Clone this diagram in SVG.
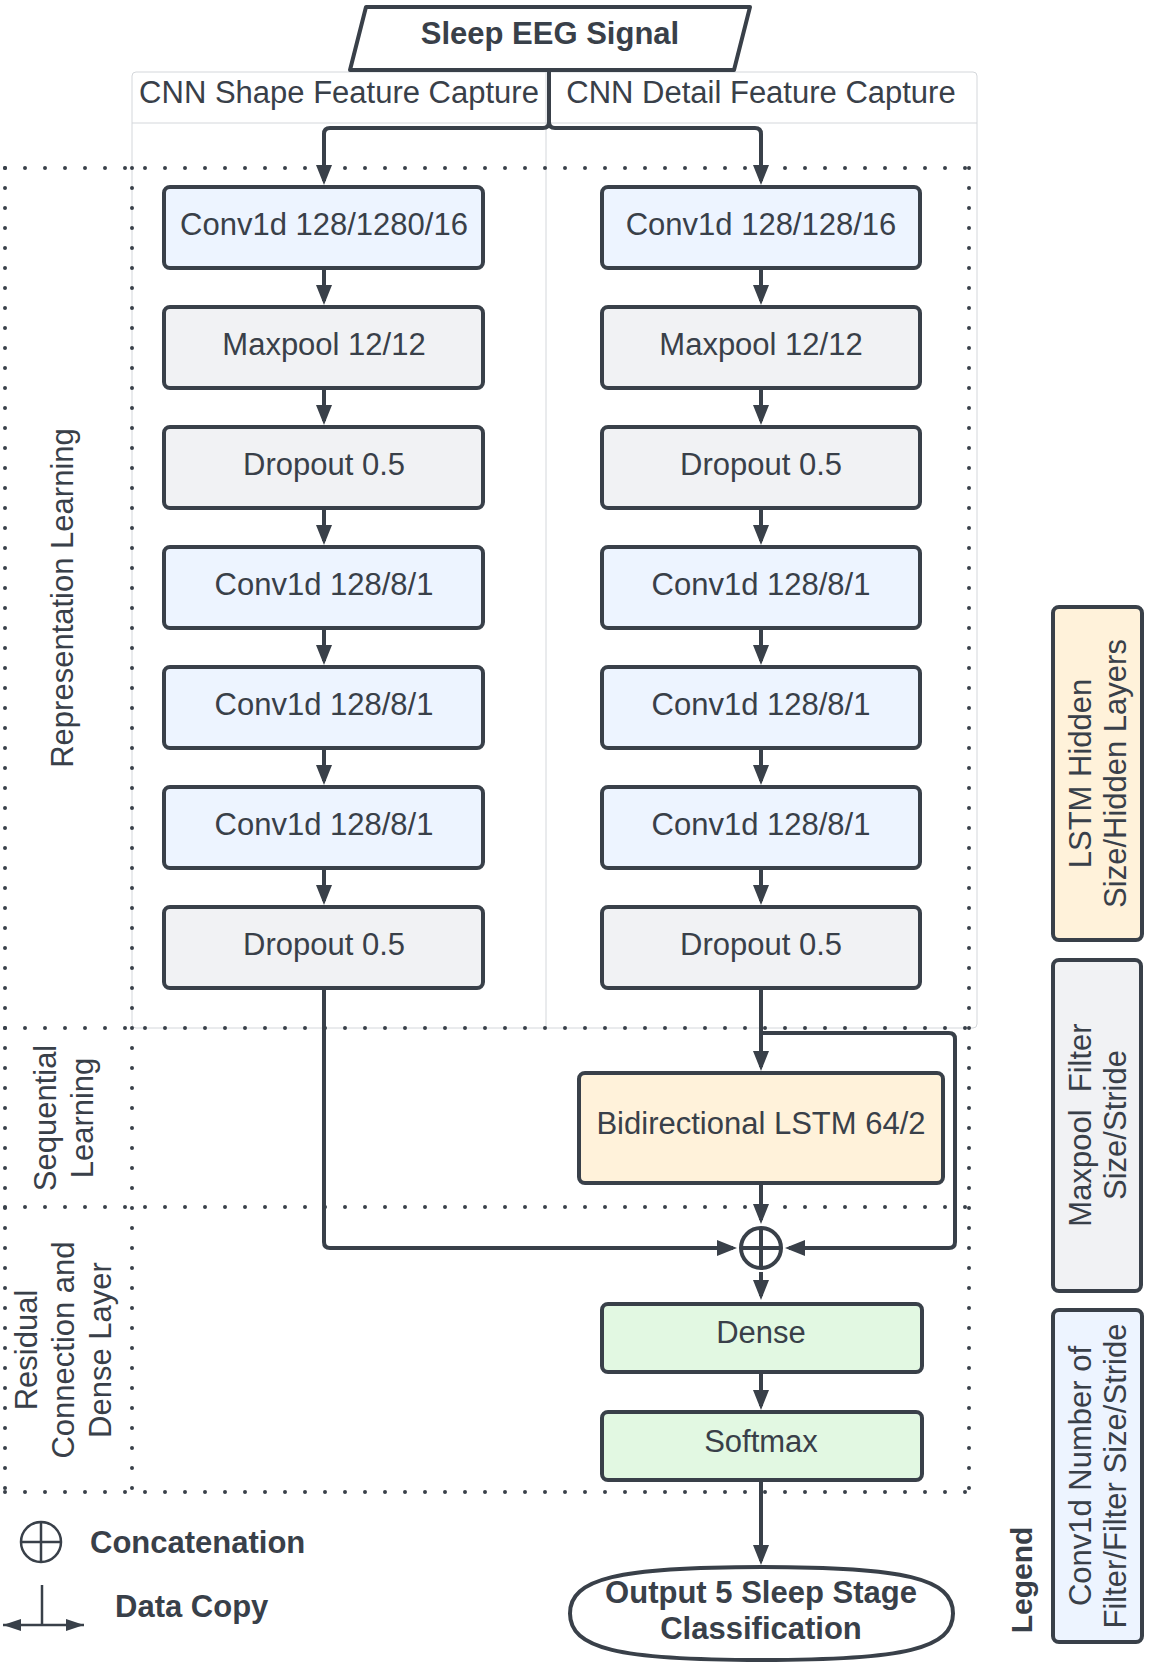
<svg xmlns="http://www.w3.org/2000/svg" width="1150" height="1666" viewBox="0 0 1150 1666">
<style>
text{font-family:"Liberation Sans",Arial,sans-serif;fill:#394049;}
.t{font-size:31px;text-anchor:middle;}
.b{font-size:31px;font-weight:bold;text-anchor:middle;}
.box{stroke:#394049;stroke-width:4;}
.conv{fill:#edf4ff;}
.gray{fill:#f1f2f4;}
.cream{fill:#fff2da;}
.green{fill:#e2f8e2;}
.dot{fill:none;stroke:#394049;stroke-width:4;stroke-linecap:round;stroke-dasharray:0 20;}
.lane{fill:none;stroke:#d4d7db;stroke-width:1;}
.con{fill:none;stroke:#394049;stroke-width:4;stroke-linejoin:round;}
</style>
<defs>
<marker id="arr" viewBox="0 0 20 16" refX="16" refY="8" markerWidth="20" markerHeight="16" markerUnits="userSpaceOnUse" orient="auto">
<path d="M0,0 L20,8 L0,16 z" fill="#394049"/>
</marker>
<marker id="sarr" viewBox="0 0 18 12" refX="18" refY="6" markerWidth="18" markerHeight="12" markerUnits="userSpaceOnUse" orient="auto-start-reverse">
<path d="M0,0 L18,6 L0,12 z" fill="#394049"/>
</marker>
</defs>
<rect width="1150" height="1666" fill="#ffffff"/>

<!-- swimlane pool -->
<g id="swimlane">
<rect class="lane" x="132" y="72" width="845" height="956" rx="4"/>
<line class="lane" x1="132" y1="123" x2="977" y2="123"/>
<line class="lane" x1="546" y1="72" x2="546" y2="1028"/>
<text x="339" y="103" class="t">CNN Shape Feature Capture</text>
<text x="761" y="103" class="t">CNN Detail Feature Capture</text>
</g>

<!-- dotted regions -->
<g id="regions">
<path class="dot" d="M5,168 H969 M5,1028 H969 M5,1207 H969 M5,1492 H969"/>
<path class="dot" d="M5,168 V1492 M132,168 V1492 M969,168 V1492"/>
<text transform="translate(73,598) rotate(-90)" class="t">Representation Learning</text>
<text transform="translate(0,1118) rotate(-90)" class="t"><tspan x="0" y="56">Sequential</tspan><tspan x="0" y="93">Learning</tspan></text>
<text transform="translate(0,1350) rotate(-90)" class="t"><tspan x="0" y="37">Residual</tspan><tspan x="0" y="74">Connection and</tspan><tspan x="0" y="111">Dense Layer</tspan></text>
</g>

<!-- connectors -->
<g id="connectors">
<path class="con" d="M549,70 V122 Q549,128 543,128 H330 Q324,128 324,134 V181" marker-end="url(#arr)"/>
<path class="con" d="M549,122 Q549,128 555,128 H755 Q761,128 761,134 V181" marker-end="url(#arr)"/>
<path class="con" d="M324,270 V301" marker-end="url(#arr)"/>
<path class="con" d="M324,390 V421" marker-end="url(#arr)"/>
<path class="con" d="M324,510 V541" marker-end="url(#arr)"/>
<path class="con" d="M324,630 V661" marker-end="url(#arr)"/>
<path class="con" d="M324,750 V781" marker-end="url(#arr)"/>
<path class="con" d="M324,870 V901" marker-end="url(#arr)"/>
<path class="con" d="M761,270 V301" marker-end="url(#arr)"/>
<path class="con" d="M761,390 V421" marker-end="url(#arr)"/>
<path class="con" d="M761,510 V541" marker-end="url(#arr)"/>
<path class="con" d="M761,630 V661" marker-end="url(#arr)"/>
<path class="con" d="M761,750 V781" marker-end="url(#arr)"/>
<path class="con" d="M761,870 V901" marker-end="url(#arr)"/>
<path class="con" d="M761,990 V1067" marker-end="url(#arr)"/>
<path class="con" d="M761,1033 H949 Q955,1033 955,1039 V1242 Q955,1248 949,1248 H789" marker-end="url(#arr)"/>
<path class="con" d="M324,990 V1242 Q324,1248 330,1248 H733" marker-end="url(#arr)"/>
<path class="con" d="M761,1185 V1220" marker-end="url(#arr)"/>
<path class="con" d="M761,1272 V1296" marker-end="url(#arr)"/>
<path class="con" d="M761,1374 V1406" marker-end="url(#arr)"/>
<path class="con" d="M761,1482 V1561" marker-end="url(#arr)"/>
</g>

<!-- nodes -->
<g id="input">
<path class="box" fill="#ffffff" stroke-linejoin="round" d="M366,7 H750 L734,70 H350 Z"/>
<text x="550" y="44" class="b">Sleep EEG Signal</text>
</g>

<g id="s_conv1"><rect class="box conv" x="164" y="187" width="319" height="81" rx="6"/><text x="324" y="235" class="t">Conv1d 128/1280/16</text></g>
<g id="s_pool"><rect class="box gray" x="164" y="307" width="319" height="81" rx="6"/><text x="324" y="355" class="t">Maxpool 12/12</text></g>
<g id="s_drop1"><rect class="box gray" x="164" y="427" width="319" height="81" rx="6"/><text x="324" y="475" class="t">Dropout 0.5</text></g>
<g id="s_conv2"><rect class="box conv" x="164" y="547" width="319" height="81" rx="6"/><text x="324" y="595" class="t">Conv1d 128/8/1</text></g>
<g id="s_conv3"><rect class="box conv" x="164" y="667" width="319" height="81" rx="6"/><text x="324" y="715" class="t">Conv1d 128/8/1</text></g>
<g id="s_conv4"><rect class="box conv" x="164" y="787" width="319" height="81" rx="6"/><text x="324" y="835" class="t">Conv1d 128/8/1</text></g>
<g id="s_drop2"><rect class="box gray" x="164" y="907" width="319" height="81" rx="6"/><text x="324" y="955" class="t">Dropout 0.5</text></g>

<g id="d_conv1"><rect class="box conv" x="602" y="187" width="318" height="81" rx="6"/><text x="761" y="235" class="t">Conv1d 128/128/16</text></g>
<g id="d_pool"><rect class="box gray" x="602" y="307" width="318" height="81" rx="6"/><text x="761" y="355" class="t">Maxpool 12/12</text></g>
<g id="d_drop1"><rect class="box gray" x="602" y="427" width="318" height="81" rx="6"/><text x="761" y="475" class="t">Dropout 0.5</text></g>
<g id="d_conv2"><rect class="box conv" x="602" y="547" width="318" height="81" rx="6"/><text x="761" y="595" class="t">Conv1d 128/8/1</text></g>
<g id="d_conv3"><rect class="box conv" x="602" y="667" width="318" height="81" rx="6"/><text x="761" y="715" class="t">Conv1d 128/8/1</text></g>
<g id="d_conv4"><rect class="box conv" x="602" y="787" width="318" height="81" rx="6"/><text x="761" y="835" class="t">Conv1d 128/8/1</text></g>
<g id="d_drop2"><rect class="box gray" x="602" y="907" width="318" height="81" rx="6"/><text x="761" y="955" class="t">Dropout 0.5</text></g>

<g id="lstm"><rect class="box cream" x="579" y="1073" width="364" height="110" rx="6"/><text x="761" y="1134" class="t">Bidirectional LSTM 64/2</text></g>

<g id="concat">
<circle cx="761" cy="1248" r="20" fill="#ffffff" stroke="#394049" stroke-width="4"/>
<path d="M741,1248 H781 M761,1228 V1268" stroke="#394049" stroke-width="4"/>
</g>

<g id="dense"><rect class="box green" x="602" y="1304" width="320" height="68" rx="6"/><text x="761" y="1343" class="t">Dense</text></g>
<g id="softmax"><rect class="box green" x="602" y="1412" width="320" height="68" rx="6"/><text x="761" y="1452" class="t">Softmax</text></g>

<g id="output">
<path class="box" fill="#ffffff" d="M570,1613.5 C570,1578.6 617.9,1567 761.5,1567 C905.1,1567 953,1578.6 953,1613.5 C953,1648.4 905.1,1660 761.5,1660 C617.9,1660 570,1648.4 570,1613.5 Z"/>
<text x="761" y="1603" class="b">Output 5 Sleep Stage</text>
<text x="761" y="1639" class="b">Classification</text>
</g>

<!-- legend -->
<g id="legend">
<circle cx="41" cy="1542" r="20" fill="none" stroke="#394049" stroke-width="2.5"/>
<path d="M21,1542 H61 M41,1522 V1562" stroke="#394049" stroke-width="2.5"/>
<text x="90" y="1553" font-size="31" font-weight="bold">Concatenation</text>
<line x1="42" y1="1585" x2="42" y2="1625" stroke="#394049" stroke-width="2.5"/>
<line x1="3" y1="1625" x2="84" y2="1625" stroke="#394049" stroke-width="2.5" marker-start="url(#sarr)" marker-end="url(#sarr)"/>
<text x="115" y="1617" font-size="31" font-weight="bold">Data Copy</text>
<text transform="translate(1032,1580) rotate(-90)" font-size="30" font-weight="bold" text-anchor="middle">Legend</text>
</g>
<g id="legend_lstm">
<rect class="box cream" x="1053" y="607" width="89" height="333" rx="6"/>
<text transform="translate(1097.5,773.5) rotate(-90)" class="t" font-size="30"><tspan x="0" y="-6.5">LSTM Hidden</tspan><tspan x="0" y="28.5">Size/Hidden Layers</tspan></text>
</g>
<g id="legend_pool">
<rect class="box gray" x="1053" y="960" width="88" height="331" rx="6"/>
<text transform="translate(1097,1125) rotate(-90)" class="t" style="white-space:pre"><tspan x="0" y="-6.5">Maxpool  Filter</tspan><tspan x="0" y="28.5">Size/Stride</tspan></text>
</g>
<g id="legend_conv">
<rect class="box conv" x="1053" y="1310" width="89" height="332" rx="6"/>
<text transform="translate(1097.5,1476) rotate(-90)" class="t"><tspan x="0" y="-6.5">Conv1d Number of</tspan><tspan x="0" y="28.5">Filter/Filter Size/Stride</tspan></text>
</g>
</svg>
